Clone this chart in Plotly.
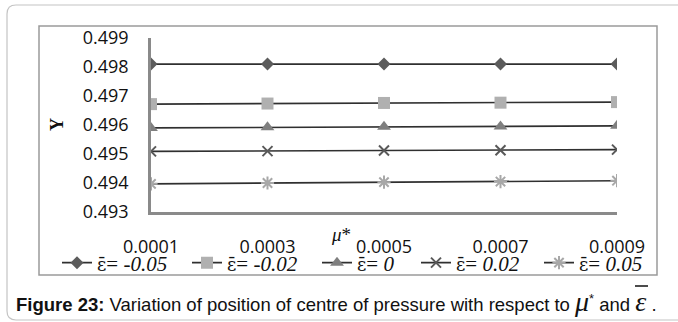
import plotly.graph_objects as go

categories = ["0.0001", "0.0003", "0.0005", "0.0007", "0.0009"]
eps_values = ["-0.05", "-0.02", "0", "0.02", "0.05"]
y_m005 = [0.49810, 0.49810, 0.49810, 0.49810, 0.49810]
y_m002 = [0.49672, 0.49674, 0.49676, 0.49677, 0.49679]
y_0 = [0.49590, 0.49592, 0.49594, 0.49595, 0.49597]
y_p002 = [0.49509, 0.49510, 0.49512, 0.49513, 0.49515]
y_p005 = [0.49397, 0.49400, 0.49403, 0.49405, 0.49408]
y_ticks = [0.493, 0.494, 0.495, 0.496, 0.497, 0.498, 0.499]

W, H = 678, 322
L, R, T, B = 151, 61, 38, 110
PW, PH = W - L - R, H - T - B


def px(x):
    return (x - L) / PW


def py(y):
    return (H - B - y) / PH


series = [y_m005, y_m002, y_0, y_p002, y_p005]
symbols = ["diamond", "square", "triangle-up", "x-thin-open", "asterisk-open"]
mcolors = ["#5c5c5c", "#b0b0b0", "#7f7f7f", "#595959", "#a8a8a8"]
msizes = [10, 12, 12, 10, 11]
legend_ids = ["legend", "legend2", "legend3", "legend4", "legend5"]
legend_x = [57, 187, 317, 416, 539]

fig = go.Figure()
for i, (ev, vals) in enumerate(zip(eps_values, series)):
    mline = dict(width=2, color=mcolors[i]) if "open" in symbols[i] else dict(width=0)
    fig.add_trace(go.Scatter(
        x=categories, y=vals,
        name="<span style='font-family:DejaVu Serif;font-size:18px'>ε̄</span>= <i>" + ev + "</i>",
        mode="lines+markers",
        line=dict(color="#303030", width=1.6),
        marker=dict(symbol=symbols[i], size=msizes[i], color=mcolors[i], line=mline),
        legend=legend_ids[i],
    ))

legend_font = dict(family="Liberation Serif", size=21, color="#111")
lay_legends = {}
for i, lid in enumerate(legend_ids):
    lay_legends[lid] = dict(
        x=px(legend_x[i]), y=py(263), xanchor="left", yanchor="middle",
        orientation="h", font=legend_font, bgcolor="rgba(0,0,0,0)",
        borderwidth=0, itemwidth=30, tracegroupgap=0,
    )

r = 9
x0, x1, y0, y1 = 7, 700, 5, 320
outer = (f"M {px(x0 + r)},{py(y0)} L {px(x1)},{py(y0)} "
         f"M {px(x0 + r)},{py(y0)} Q {px(x0)},{py(y0)} {px(x0)},{py(y0 + r)} "
         f"L {px(x0)},{py(y1 - r)} Q {px(x0)},{py(y1)} {px(x0 + r)},{py(y1)} L {px(x1)},{py(y1)}")

fig.update_layout(
    width=W, height=H,
    margin=dict(l=L, r=R, t=T, b=B),
    paper_bgcolor="white", plot_bgcolor="white",
    showlegend=True,
    xaxis=dict(
        type="category", range=[0, 4], showgrid=False, zeroline=False,
        showline=True, linecolor="#8a8a8a", linewidth=2.5,
        ticks="", tickfont=dict(family="Open Sans", size=18, color="#111"),
        ticklabelstandoff=17,
    ),
    yaxis=dict(
        range=[0.493, 0.499], tickvals=y_ticks, tickformat=".3f",
        showgrid=False, zeroline=False,
        showline=True, linecolor="#8a8a8a", linewidth=2.5,
        ticks="", tickfont=dict(family="Open Sans", size=18, color="#111"),
        ticklabelstandoff=16,
    ),
    shapes=[
        dict(type="rect", xref="paper", yref="paper",
             x0=px(39), x1=px(657), y0=py(26), y1=py(275),
             line=dict(color="#9a9a9a", width=1.5), layer="below"),
        dict(type="path", xref="paper", yref="paper", path=outer,
             line=dict(color="#c4c4c4", width=1.2)),
        dict(type="line", xref="paper", yref="paper",
             x0=px(635), x1=px(648), y0=py(286), y1=py(286),
             line=dict(color="#111", width=1.5)),
    ],
    annotations=[
        dict(text="<b>Y</b>", xref="paper", yref="paper", x=px(57), y=py(125),
             xanchor="center", yanchor="middle",
             showarrow=False, textangle=-90,
             font=dict(family="Liberation Serif", size=18, color="#111")),
        dict(text="<i>μ</i>*", xref="paper", yref="paper", x=px(341), y=py(234),
             xanchor="center", yanchor="middle",
             showarrow=False,
             font=dict(family="Liberation Serif", size=19, color="#111")),
        dict(text="<b>Figure 23:</b> Variation of position of centre of pressure with respect to "
                  "<span style='font-family:Liberation Serif;font-size:28px'><i>μ</i></span><sup>*</sup>&nbsp;and "
                  "<span style='font-family:Liberation Serif;font-size:28px'><i>ε</i></span>&nbsp;.",
             xref="paper", yref="paper", x=px(14), y=py(301), xanchor="left", yanchor="middle",
             showarrow=False,
             font=dict(family="Liberation Sans", size=18.5, color="#111")),
    ],
    **lay_legends,
)

fig.write_html("out.html")
